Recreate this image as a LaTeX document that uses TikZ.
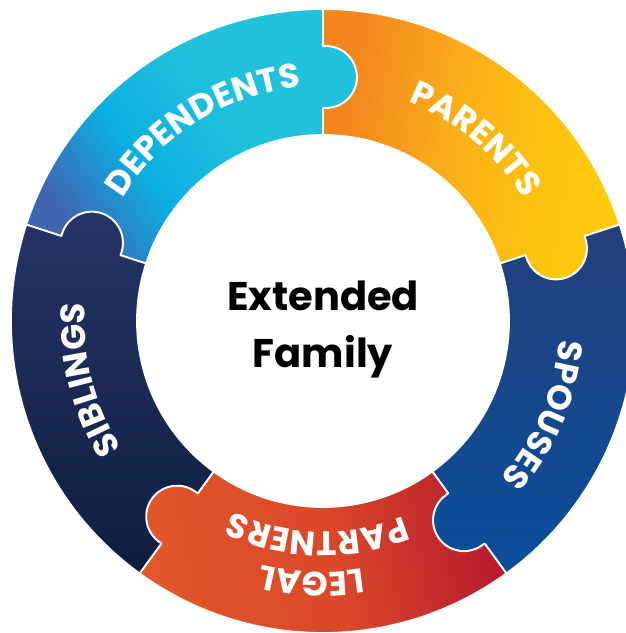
\documentclass[tikz,border=0pt]{standalone}
\usepackage{fontspec}
\usetikzlibrary{calc,decorations.text}
\newfontfamily\popfont{Poppins}
\definecolor{depA}{HTML}{21C1DC}
\definecolor{depB}{HTML}{0CAFE2}
\definecolor{depC}{HTML}{3F66B0}
\definecolor{parA}{HTML}{F4861F}
\definecolor{parM}{HTML}{FAB118}
\definecolor{parB}{HTML}{FEC80E}
\definecolor{spoA}{HTML}{243F7B}
\definecolor{spoB}{HTML}{0A4F9C}
\definecolor{legA}{HTML}{E1562A}
\definecolor{legM}{HTML}{D9482A}
\definecolor{legB}{HTML}{B81C2E}
\definecolor{sibA}{HTML}{263469}
\definecolor{sibB}{HTML}{0F1E3E}
\pgfdeclareverticalshading{depshade}{100bp}{color(0bp)=(depC); color(25bp)=(depC); color(40bp)=(depB); color(58bp)=(depA); color(100bp)=(depA)}
\pgfdeclarehorizontalshading{parshade}{100bp}{color(0bp)=(parA); color(28bp)=(parA); color(48bp)=(parM); color(68bp)=(parB); color(100bp)=(parB)}
\pgfdeclarehorizontalshading{legshade}{100bp}{color(0bp)=(legA); color(25bp)=(legA); color(52bp)=(legM); color(75bp)=(legB); color(100bp)=(legB)}
% one ring segment: counter-clockwise end at angle #1, knob on its clockwise end
\newcommand\segpath[1]{%
 (#1:312pt) arc[start angle=#1, end angle=#1-72, radius=312pt]
 -- ({#1-72}:275pt) -- ($({#1-72}:275pt)+({#1-162}:3pt)$)
 arc[start angle=#1-72, end angle=#1-252, radius=31pt]
 -- ({#1-72}:213pt) -- ({#1-72}:186pt)
 arc[start angle=#1-72, end angle=#1, radius=186pt]
 -- (#1:213pt) -- ($(#1:213pt)+({#1-90}:3pt)$)
 arc[start angle=#1-180, end angle=#1, radius=31pt]
 -- (#1:275pt) -- cycle}
\tikzset{
 segment/.style={draw=white, line width=1.8pt, line join=round},
 ringlabel/.style={decorate, decoration={text along path, text align=center,
   text color=white, text={|\popfont\bfseries\fontsize{34}{34}\selectfont|#1}}},
 centertext/.style={font=\popfont\bfseries\fontsize{40}{48}\selectfont, text=black, anchor=base, inner sep=0pt}
}
\begin{document}
\begin{tikzpicture}
\useasboundingbox (-323pt,-312pt) rectangle (303pt,321pt);
\fill[white] (-323pt,-312pt) rectangle (303pt,321pt);
\clip (-323pt,-312pt) rectangle (303pt,321pt);
% segments
\shadedraw[segment, shading=depshade, shading angle=-55] \segpath{162};
\shadedraw[segment, shading=parshade, shading angle=-10] \segpath{90};
\shadedraw[segment, top color=spoA, bottom color=spoB] \segpath{18};
\shadedraw[segment, shading=legshade, shading angle=10] \segpath{-54};
\shadedraw[segment, top color=sibA, bottom color=sibB] \segpath{-126};
% labels along the ring
\path[ringlabel=DEPENDENTS] (182:235pt) arc[start angle=182, end angle=62, radius=235pt];
\path[ringlabel=PARENTS] (110:235pt) arc[start angle=110, end angle=-10, radius=235pt];
\path[ringlabel=SPOUSES] (37:237pt) arc[start angle=37, end angle=-83, radius=237pt];
\path[ringlabel=PARTNERS] (-31:211pt) arc[start angle=-31, end angle=-152, radius=211pt];
\path[ringlabel=LEGAL] (-32:251pt) arc[start angle=-32, end angle=-153, radius=251pt];
\path[ringlabel=SIBLINGS] (254:238pt) arc[start angle=254, end angle=134, radius=238pt];
% centre
\node[centertext] (ext) at (0pt,11pt) {Extended};
\node[centertext] (fam) at (0pt,-46pt) {Family};
\end{tikzpicture}
\end{document}
